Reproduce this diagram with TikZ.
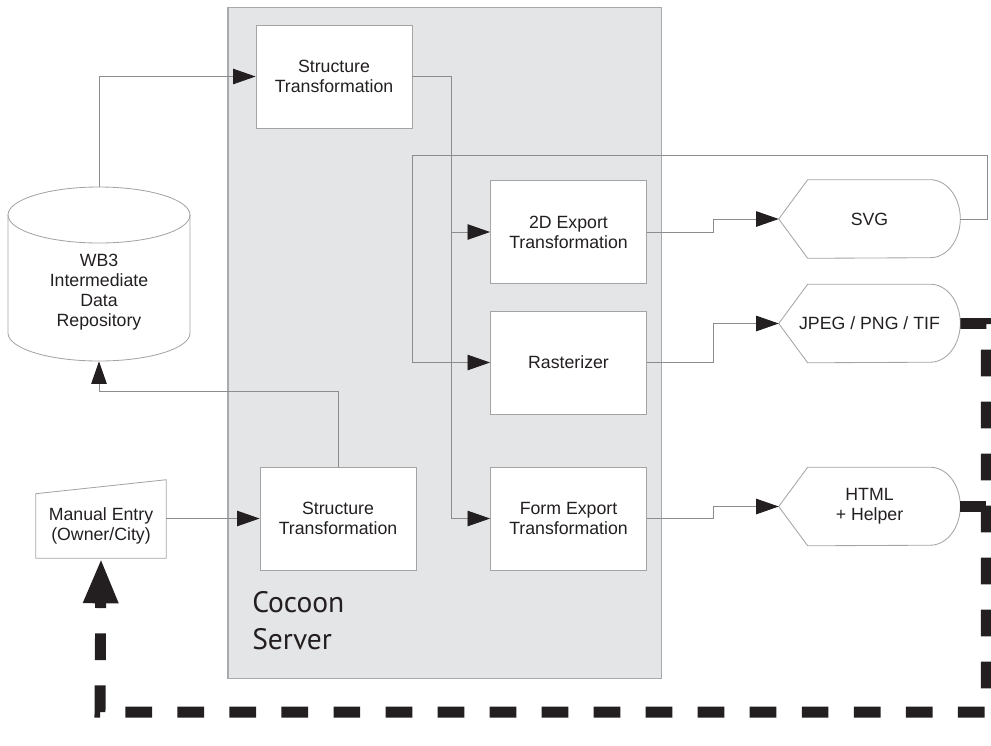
\documentclass[tikz,border=0pt]{standalone}
\usepackage{fontspec}
\setmainfont{Liberation Sans}
\newfontfamily\serverfont{PT Sans}
\usepackage{tikz}
\usetikzlibrary{positioning}
\usetikzlibrary{calc}
\usetikzlibrary{arrows.meta}
\definecolor{servergray}{HTML}{E4E5E7}
\definecolor{serverline}{HTML}{A9AAAC}
\definecolor{boxline}{HTML}{A4A4A4}
\definecolor{wireline}{HTML}{8C8C8C}
\definecolor{inkblack}{HTML}{231F20}

\begin{document}
\begin{tikzpicture}[x=0.025cm, y=-0.025cm,
    every node/.style={font=\fontsize{12.6}{14.2}\selectfont, text=inkblack, align=center},
    box/.style={draw=boxline, fill=white, line width=0.6pt, minimum width=3.9cm, minimum height=2.575cm},
    outline/.style={draw=boxline, line width=0.6pt},
    wire/.style={draw=wireline, line width=0.6pt},
    arr/.style={-{Triangle[length=16pt, width=11pt, color=inkblack]}},
    feedback/.style={draw=inkblack, line width=7.8pt, dash pattern=on 19pt off 18pt,
      -{Triangle[length=32pt, width=23pt]}}]
  \useasboundingbox (0,0) rectangle (991,745);

  \node[draw=serverline, fill=servergray, line width=0.8pt, minimum width=10.825cm, minimum height=16.75cm] (server) at (444.5,343) {};
  \node[anchor=north west, inner sep=0pt, align=left, font=\serverfont\fontsize{21}{26.3}\selectfont] (servername) at (252,591) {Cocoon\\Server};

  \node[box] (strA) at (334,76.5) {Structure\\Transformation};
  \node[box] (strB) at (338,518.5) {Structure\\Transformation};
  \node[box] (exp2d) at (568.5,232) {2D Export\\Transformation};
  \node[box] (raster) at (568.5,362.5) {Rasterizer};
  \node[box] (form) at (568.5,518.5) {Form Export\\Transformation};

  \node[minimum width=4.55cm, minimum height=4.35cm,
    label={[align=center, yshift=-0.45cm]center:WB3\\Intermediate\\Data\\Repository}] (repo) at (99,274) {};
  \draw[outline] (8,215) -- (8,333) arc[start angle=180, end angle=0, x radius=91, y radius=28] -- (190,215);
  \draw[outline] (99,215) ellipse[x radius=91, y radius=28];

  \node[minimum width=3.25cm, minimum height=1.6cm] (man) at (101,526) {Manual Entry\\(Owner/City)};
  \draw[outline] (man.south west) -- (man.north west) -- ([yshift=0.35cm]man.north east) -- (man.south east) -- cycle;

  \node[minimum width=4.525cm, minimum height=1.95cm] (svg) at (869.5,219) {SVG};
  \node[minimum width=4.525cm, minimum height=1.95cm] (jpeg) at (869.5,323.5) {JPEG / PNG / TIF};
  \node[minimum width=4.525cm, minimum height=1.95cm] (html) at (869.5,506.5) {HTML\\+ Helper};
  \foreach \n in {svg,jpeg,html} {
    \draw[outline] (\n.west) -- ([xshift=0.725cm]\n.north west) -- ([xshift=-0.75cm]\n.north east)
      arc[start angle=-90, end angle=90, x radius=30, y radius=39] -- ([xshift=0.725cm]\n.south west) -- cycle;
  }

  \coordinate (split) at (451,76.5);
  \coordinate (loopcorner) at (412,155);

  \draw[wire, arr] (repo.north) |- (strA.west);
  \draw[wire, arr] (strB.north) -- ++(0,-75) -| (repo.south);
  \draw[wire, arr] (man.east |- strB.west) -- (strB.west);
  \draw[wire, arr] (strA.east) -- (split) |- (form.west);
  \draw[wire, arr] (split |- exp2d.west) -- (exp2d.west);
  \draw[wire, arr] (svg.east) -- ++(27,0) |- (loopcorner) |- (raster.west);
  \foreach \a/\b in {exp2d/svg, raster/jpeg, form/html} {
    \draw[wire, arr] (\a.east) -- ++(66,0) |- (\b.west);
  }

  \draw[feedback] (jpeg.east) -- ++(26,0) |- (100,712) -- (man.south);
  \draw[feedback, -] (html.east) -- ++(26,0);
\end{tikzpicture}
\end{document}
